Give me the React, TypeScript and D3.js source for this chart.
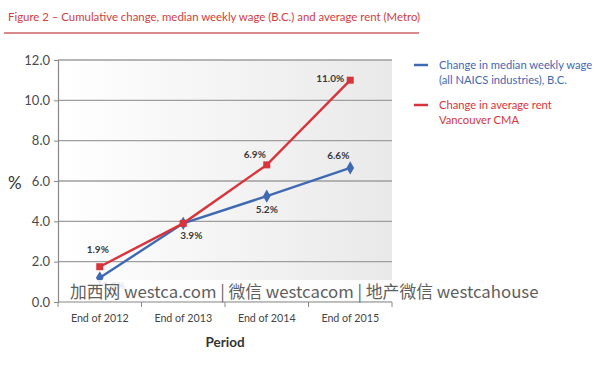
import React, { useEffect, useRef } from 'react';
import * as d3 from 'd3';

const periods = ['End of 2012', 'End of 2013', 'End of 2014', 'End of 2015'];
const wageValues = [1.2, 3.9, 5.25, 6.65];
const wageLabels = ['1.2%', '3.9%', '5.2%', '6.6%'];
const rentValues = [1.75, 3.9, 6.8, 11.0];
const rentLabels = ['1.9%', '', '6.9%', '11.0%'];
const yTicks = [0, 2, 4, 6, 8, 10, 12];
const legendItems = [
  { lines: ['Change in median weekly wage', '(all NAICS industries), B.C.'], color: '#3f69b2' },
  { lines: ['Change in average rent', 'Vancouver CMA'], color: '#d7353b' },
];

const FONT = 'Lato, "Open Sans", sans-serif';

const App = () => {
  const ref = useRef<SVGSVGElement>(null);

  useEffect(() => {
    const svg = d3.select(ref.current);
    svg.selectAll('*').remove();

    const left = 58, right = 392, top = 60, bottom = 302;

    const x = d3.scaleBand().domain(periods).range([left, right]);
    const y = d3.scaleLinear().domain([0, 12]).range([bottom, top]);
    const cx = (p: string) => (x(p) as number) + x.bandwidth() / 2;

    // title
    svg.append('text')
      .attr('x', 8).attr('y', 21)
      .attr('font-family', FONT).attr('font-size', 11.4)
      .attr('fill', '#cf3d3f')
      .text('Figure 2 – Cumulative change, median weekly wage (B.C.) and average rent (Metro)');
    svg.append('line')
      .attr('x1', 4).attr('x2', 419).attr('y1', 33).attr('y2', 33)
      .attr('stroke', '#d98a8c').attr('stroke-width', 2);

    // plot background gradient
    const defs = svg.append('defs');
    const grad = defs.append('linearGradient').attr('id', 'bg').attr('x1', 0).attr('x2', 1).attr('y1', 0).attr('y2', 0);
    grad.append('stop').attr('offset', '0%').attr('stop-color', '#ffffff');
    grad.append('stop').attr('offset', '100%').attr('stop-color', '#e9e9e9');
    svg.append('rect')
      .attr('x', left).attr('y', top).attr('width', right - left).attr('height', bottom - top)
      .attr('fill', 'url(#bg)');

    // grid
    svg.append('g').selectAll('line').data(yTicks.filter(t => t > 0)).enter().append('line')
      .attr('x1', left).attr('x2', right)
      .attr('y1', d => y(d)).attr('y2', d => y(d))
      .attr('stroke', '#9e9e9e').attr('stroke-width', 1.3);

    // y axis
    const yAxis = svg.append('g')
      .attr('transform', `translate(${left},0)`)
      .call(d3.axisLeft(y).tickValues(yTicks).tickFormat(d3.format('.1f')).tickSize(4).tickPadding(4));
    yAxis.select('.domain').attr('stroke', '#888').attr('stroke-width', 1.2);
    yAxis.selectAll('.tick line').attr('stroke', '#888');
    yAxis.selectAll('text').attr('font-family', FONT).attr('font-size', 13).attr('fill', '#4a4a4a');

    svg.append('text')
      .attr('x', 8).attr('y', 189)
      .attr('font-family', FONT).attr('font-size', 17).attr('fill', '#333')
      .text('%');

    // series
    const line = d3.line<number>().x((_, i) => cx(periods[i])).y(d => y(d));
    svg.append('path').datum(wageValues).attr('d', line)
      .attr('fill', 'none').attr('stroke', '#3f69b2').attr('stroke-width', 2.4);
    svg.append('path').datum(rentValues).attr('d', line)
      .attr('fill', 'none').attr('stroke', '#d7353b').attr('stroke-width', 2.4);

    svg.append('g').selectAll('path').data(wageValues).enter().append('path')
      .attr('d', d3.symbol(d3.symbolDiamond, 50)())
      .attr('transform', (d, i) => `translate(${cx(periods[i])},${y(d)})`)
      .attr('fill', '#3f69b2');
    svg.append('g').selectAll('rect').data(rentValues).enter().append('rect')
      .attr('x', (d, i) => cx(periods[i]) - 3.5).attr('y', d => y(d) - 3.5)
      .attr('width', 7).attr('height', 7)
      .attr('fill', '#d7353b');

    // data labels
    const wageOff = [[14, 11], [8, 16], [0, 17], [-12, -9]];
    const rentOff = [[-2, -14], [0, 0], [-12, -7], [-20, 2]];
    const lbl = svg.append('g').attr('font-family', FONT).attr('font-size', 10)
      .attr('font-weight', 700).attr('fill', '#3a3a3a').attr('text-anchor', 'middle');
    wageLabels.forEach((t, i) => {
      lbl.append('text')
        .attr('x', cx(periods[i]) + wageOff[i][0]).attr('y', y(wageValues[i]) + wageOff[i][1])
        .text(t);
    });
    rentLabels.forEach((t, i) => {
      if (!t) return;
      lbl.append('text')
        .attr('x', cx(periods[i]) + rentOff[i][0]).attr('y', y(rentValues[i]) + rentOff[i][1])
        .text(t);
    });

    // watermark band
    svg.append('rect')
      .attr('x', 62).attr('y', 280).attr('width', 486).attr('height', 21)
      .attr('fill', '#ffffff').attr('opacity', 0.85);
    svg.append('text')
      .attr('x', 70).attr('y', 298)
      .attr('font-family', '"Noto Sans CJK SC", "Noto Sans", sans-serif').attr('font-size', 16.8)
      .attr('fill', '#5e5e5e')
      .text('加西网 westca.com | 微信 westcacom | 地产微信 westcahouse');

    // x axis
    svg.append('line')
      .attr('x1', left).attr('x2', right).attr('y1', bottom).attr('y2', bottom)
      .attr('stroke', '#888').attr('stroke-width', 1.2);
    const bounds = [...periods.map(p => x(p) as number), right];
    svg.append('g').selectAll('line').data(bounds).enter().append('line')
      .attr('x1', d => d).attr('x2', d => d).attr('y1', bottom).attr('y2', bottom + 5)
      .attr('stroke', '#888');
    svg.append('g').selectAll('text').data(periods).enter().append('text')
      .attr('x', d => cx(d)).attr('y', 322)
      .attr('text-anchor', 'middle')
      .attr('font-family', FONT).attr('font-size', 10.7).attr('fill', '#444')
      .text(d => d);
    svg.append('text')
      .attr('x', 225).attr('y', 347).attr('text-anchor', 'middle')
      .attr('font-family', FONT).attr('font-size', 13.5).attr('font-weight', 700).attr('fill', '#333')
      .text('Period');

    // legend
    legendItems.forEach((item, i) => {
      const ly = 65 + i * 40;
      svg.append('line')
        .attr('x1', 414).attr('x2', 428).attr('y1', ly).attr('y2', ly)
        .attr('stroke', item.color).attr('stroke-width', 2.5);
      item.lines.forEach((t, j) => {
        svg.append('text')
          .attr('x', 439).attr('y', ly + 4 + j * 15)
          .attr('font-family', FONT).attr('font-size', 11.2).attr('fill', item.color)
          .text(t);
      });
    });
  }, []);

  return <svg ref={ref} width={611} height={374} style={{ position: 'absolute', left: 0, top: 0, background: '#fff' }} />;
};

export default App;
